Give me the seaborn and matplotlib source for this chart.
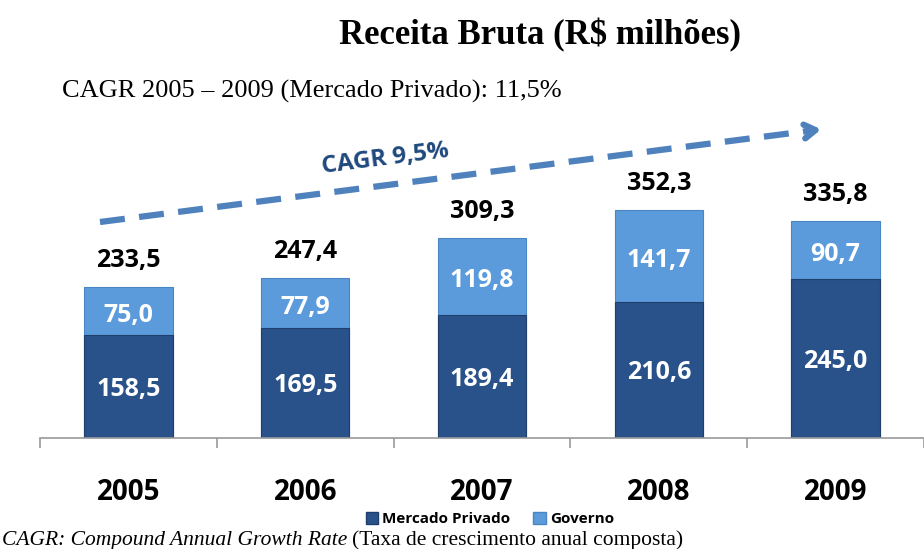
import pandas as pd
import matplotlib.pyplot as plt
import seaborn as sns
from matplotlib.lines import Line2D
from matplotlib.patches import Patch

# dados (R$ milhões)
anos = ['2005', '2006', '2007', '2008', '2009']
mercado_privado = [158.5, 169.5, 189.4, 210.6, 245.0]
governo = [75.0, 77.9, 119.8, 141.7, 90.7]
total = [233.5, 247.4, 309.3, 352.3, 335.8]

df = pd.DataFrame({'Ano': anos, 'Mercado Privado': mercado_privado, 'Governo': governo})
df['Empilhado'] = df['Mercado Privado'] + df['Governo']

cor_escura = '#29528A'
cor_clara = '#5C9BDB'
sans = 'Open Sans'
serif = 'Liberation Serif'

sns.set_style('white')
plt.rcParams['font.family'] = sans
plt.rcParams['text.color'] = 'black'
plt.rcParams['xtick.color'] = 'black'

fig = plt.figure(figsize=(9.24, 5.49), dpi=100)
W, H = 924, 549
ax = fig.add_axes([40 / W, 111 / H, 884 / W, 338 / H])

sns.barplot(data=df, x='Ano', y='Empilhado', color=cor_clara, width=0.5,
            saturation=1, edgecolor='#4A85C4', linewidth=0.8, ax=ax)
sns.barplot(data=df, x='Ano', y='Mercado Privado', color=cor_escura, width=0.5,
            saturation=1, edgecolor='#1E3F6E', linewidth=0.8, ax=ax)

ax.set_ylim(0, 338 / 0.647)
ax.set_xlim(-0.5, -0.5 + 884 / 179)
ax.set_xlabel('')
ax.set_ylabel('')
ax.set_yticks([])
for s in ['left', 'right', 'top']:
    ax.spines[s].set_visible(False)
ax.spines['bottom'].set_color('#9A9A9A')
ax.spines['bottom'].set_linewidth(1.2)

ax.set_xticks(range(len(anos)))
ax.set_xticklabels(anos, fontsize=20, fontweight='bold', fontfamily=sans)
ax.tick_params(axis='x', which='major', length=0, pad=29, labelcolor='black')
ax.set_xticks([i - 0.5 for i in range(len(anos) + 1)], minor=True)
ax.tick_params(axis='x', which='minor', bottom=True, length=7, width=1.2,
               color='#9A9A9A', direction='out')

for i in range(len(anos)):
    p = mercado_privado[i]
    g = governo[i]
    ax.annotate(f'{p:.1f}'.replace('.', ','), (i, p / 2), xytext=(0, -2),
                textcoords='offset points', ha='center', va='center',
                color='white', fontsize=18, fontweight='bold')
    ax.annotate(f'{g:.1f}'.replace('.', ','), (i, p + g / 2), xytext=(0, -3),
                textcoords='offset points', ha='center', va='center',
                color='white', fontsize=18, fontweight='bold')
    ax.annotate(f'{total[i]:.1f}'.replace('.', ','), (i, p + g), xytext=(0, 10),
                textcoords='offset points', ha='center', va='bottom',
                fontsize=18, fontweight='bold', color='black')

# seta tracejada CAGR
x0, y0, x1, y1 = 100, H - 222, 808, H - 131
linha = Line2D([x0 / W, x1 / W], [y0 / H, y1 / H], transform=fig.transFigure,
               color='#4F81BD', linewidth=4.5, dashes=(4, 2.3), solid_capstyle='butt')
fig.add_artist(linha)
ax.annotate('', xy=(824 / W, (H - 129) / H), xytext=(806 / W, (H - 131.3) / H),
            xycoords='figure fraction', textcoords='figure fraction',
            arrowprops=dict(arrowstyle='->,head_length=0.8,head_width=0.5',
                            color='#4F81BD', lw=4.5))
fig.text(385 / W, 1 - 159 / H, 'CAGR 9,5%', ha='center', va='center', rotation=7.3,
         fontsize=17.5, fontweight='bold', color='#1F497D')

# titulos
fig.text(540 / W, 1 - 35 / H, 'Receita Bruta (R$ milhões)', ha='center', va='center',
         fontsize=25, fontweight='bold', fontfamily=serif)
fig.text(62 / W, 1 - 91 / H, 'CAGR 2005 – 2009 (Mercado Privado): 11,5%', ha='left',
         va='center', fontsize=19, fontfamily=serif)

# legenda
handles = [Patch(facecolor=cor_escura, edgecolor='#1E3F6E'), Patch(facecolor=cor_clara, edgecolor='#4A85C4')]
fig.legend(handles, ['Mercado Privado', 'Governo'], loc='center', bbox_to_anchor=(490 / W, 1 - 519 / H),
           ncol=2, frameon=False, prop={'family': sans, 'weight': 'bold', 'size': 11},
           handlelength=0.8, handleheight=0.8, handletextpad=0.3, columnspacing=1.5)

# nota de rodape
t = fig.text(2 / W, 1 - 540 / H, 'CAGR: Compound Annual Growth Rate', ha='left', va='center',
             fontsize=15.5, fontstyle='italic', fontfamily=serif)
fig.canvas.draw()
bb = t.get_window_extent()
fig.text((bb.x1 + 5) / W, 1 - 540 / H, '(Taxa de crescimento anual composta)', ha='left',
         va='center', fontsize=15.5, fontfamily=serif)

plt.savefig('out.png', dpi=100)
plt.close()
